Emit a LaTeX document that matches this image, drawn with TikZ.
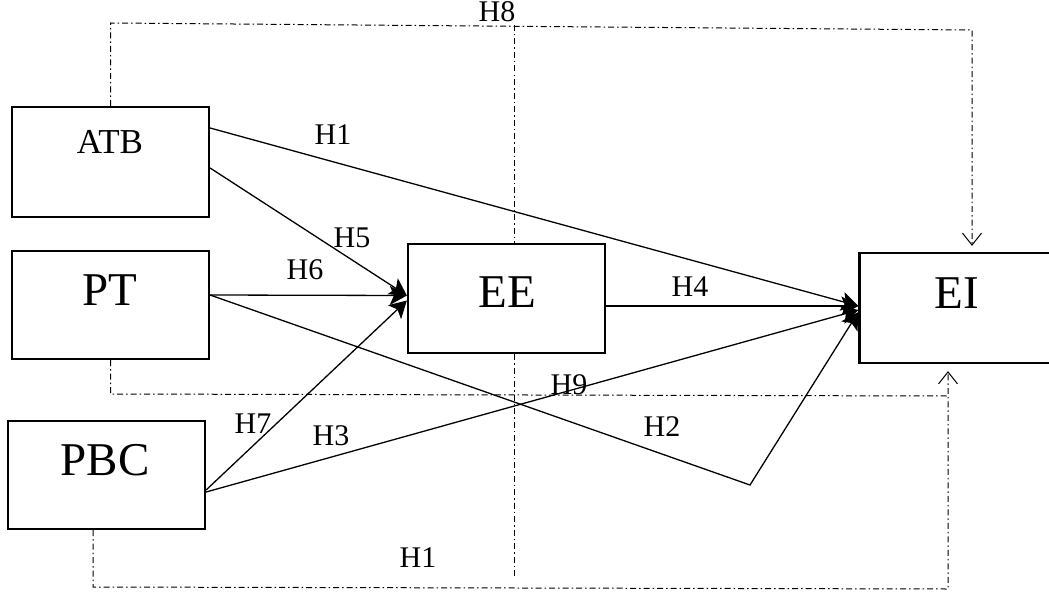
\documentclass[tikz,border=0pt]{standalone}
\usepackage{fontspec}
\setmainfont{Liberation Serif}
\usetikzlibrary{arrows.meta,calc}
\begin{document}
\begin{tikzpicture}[x=1pt,y=-1pt,
 box/.style={draw,line width=2.2pt,minimum width=197pt,minimum height=108pt,inner sep=0pt},
 big/.style={font=\fontsize{47}{47}\selectfont,inner sep=0pt},
 mid/.style={font=\fontsize{35}{35}\selectfont,inner sep=0pt},
 hlab/.style={font=\fontsize{30}{30}\selectfont,inner sep=0pt},
 conn/.style={line width=1.3pt,-{Stealth[length=17pt,width=19pt,inset=4pt]}},
 dd/.style={line width=1pt,dash pattern=on 6pt off 3pt on 1.5pt off 3pt},
 ddarrow/.style={dd,-{Straight Barb[length=12pt,width=19pt,line width=1pt]}}]
\useasboundingbox (0,0) rectangle (1049,594);
% boxes
\node[box,minimum height=110pt] (atb) at (110.5,162) {};
\node[box] (pt) at (110.5,305) {};
\node[box] (pbc) at (106.5,475) {};
\node[box,minimum height=109pt] (ee) at (506.5,298.5) {};
\node[box,minimum height=110pt] (ei) at (958,308) {};
% box texts
\node[mid] (atbT) at (110,142) {ATB};
\node[big] (ptT) at (110,290) {PT};
\node[big] (pbcT) at (105,460) {PBC};
\node[big] (eeT) at (507,292) {EE};
\node[big] (eiT) at (957,293) {EI};
% dash-dot connectors
\coordinate (tl) at (110.5,23);
\coordinate (tr) at (972,30);
\draw[ddarrow,shorten >=6pt] (atb.north) -- (tl) -- (tr) -- (tr |- ei.north);
\coordinate (mt) at (514,25);
\coordinate (mb) at (514,578);
\draw[dd] (mt) -- (mt |- ee.north);
\draw[dd] (mb |- ee.south) -- (mb);
\coordinate (pl) at (110.5,394);
\coordinate (pr) at (948,396);
\draw[dd] (pt.south) -- (pl) -- (pr);
\coordinate (bl) at (93,587);
\coordinate (br) at (948,589);
\draw[ddarrow,shorten >=7pt] (pbc.south -| bl) -- (bl) -- (br) -- (br |- ei.south);
% solid connectors
\coordinate (h2c) at (750,485);
\draw[conn] ($(atb.east)+(0,-34)$) -- ($(ei.west)+(0,-2)$);
\draw[conn] ($(atb.east)+(0,6)$) -- ($(ee.west)+(0,-3)$);
\draw[conn] ($(pt.east)+(0,-10)$) -- ($(ee.west)+(0,-3)$);
\draw[conn] ($(pt.east)+(0,-10)$) -- (h2c) -- ($(ei.west)+(0,4)$);
\draw[conn] ($(pbc.east)+(0,15)$) -- ($(ee.west)+(0,2)$);
\draw[conn] ($(pbc.east)+(0,17)$) -- ($(ei.west)+(0,2)$);
\draw[conn] ($(ee.east)+(0,7.5)$) -- ($(ei.west)+(0,-2)$);
% labels
\node[hlab] (lH1) at (333,135) {H1};
\node[hlab] (lH5) at (352,238) {H5};
\node[hlab] (lH6) at (305,270) {H6};
\node[hlab] (lH4) at (690,287) {H4};
\node[hlab] (lH2) at (662,427) {H2};
\node[hlab] (lH9) at (569,385) {H9};
\node[hlab] (lH7) at (253,424) {H7};
\node[hlab] (lH3) at (331,436) {H3};
\node[hlab] (lH1b) at (418,558) {H1};
\node[hlab] (lH8) at (497,12) {H8};
\end{tikzpicture}
\end{document}
